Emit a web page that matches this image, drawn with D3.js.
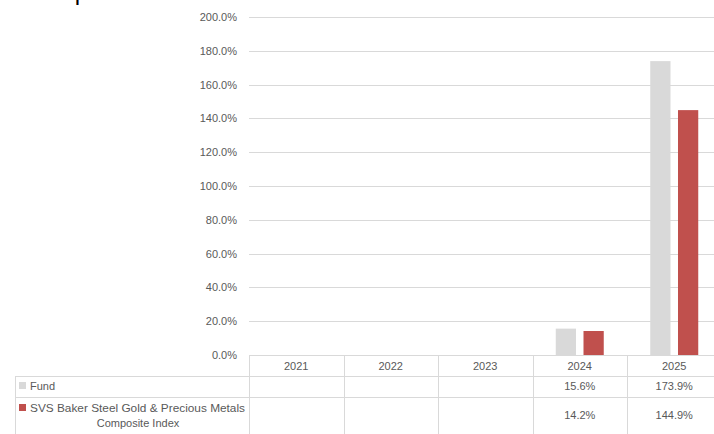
<!DOCTYPE html>
<html>

<head>
    <meta charset="utf-8">
    <script src="https://d3js.org/d3.v7.min.js"></script>
    <style>
        body { margin: 0; background: #fff; }
        text { font-family: "Liberation Sans", Arial, sans-serif; fill: #595959; }
    </style>
</head>

<body>
    <div id="viz"></div>

    <script>

        // data
        var years = ["2021", "2022", "2023", "2024", "2025"]
        var seriesNames = ["Fund", "SVS Baker Steel Gold & Precious Metals Composite Index"]
        var fundValues = [null, null, null, 15.6, 173.9]
        var indexValues = [null, null, null, 14.2, 144.9]
        var yTicks = [0, 20, 40, 60, 80, 100, 120, 140, 160, 180, 200]
        var colors = ["#d9d9d9", "#c0504d"]

        var W = 714, H = 434
        var plotLeft = 249, colWidth = 94.5
        var yBottom = 355, yTop = 17
        var rowLines = [355, 376, 397, 440]
        var labelLeft = 15

        var svg = d3.select("#viz")
            .append("svg")
            .attr("width", W)
            .attr("height", H)

        // title cut off by the top edge, only a descender shows
        svg.append("text")
            .attr("x", -20)
            .attr("y", 0)
            .style("font-size", "24px")
            .style("fill", "#000")
            .text("Discrete performance")

        var x = d3.scaleBand()
            .domain(years)
            .range([plotLeft, plotLeft + colWidth * years.length])

        var x1 = d3.scaleBand()
            .domain([0, 1])
            .range([0, 48])
            .paddingInner(0.27)

        var y = d3.scaleLinear()
            .domain([0, 200])
            .range([yBottom, yTop])

        // gridlines
        svg.append("g")
            .selectAll("line")
            .data(yTicks.slice(1))
            .enter()
            .append("line")
            .attr("x1", plotLeft)
            .attr("x2", W)
            .attr("y1", function (d) { return Math.round(y(d)) + 0.5 })
            .attr("y2", function (d) { return Math.round(y(d)) + 0.5 })
            .attr("stroke", "#d9d9d9")
            .attr("stroke-width", 1)

        // y tick labels
        svg.append("g")
            .selectAll("text")
            .data(yTicks)
            .enter()
            .append("text")
            .attr("x", 237)
            .attr("y", function (d) { return y(d) + 4 })
            .attr("text-anchor", "end")
            .style("font-size", "11px")
            .text(function (d) { return d.toFixed(1) + "%" })

        // bars
        var series = [fundValues, indexValues]
        series.forEach(function (vals, si) {
            svg.append("g")
                .selectAll("rect")
                .data(years.map(function (yr, i) { return { year: yr, value: vals[i] } })
                    .filter(function (d) { return d.value != null }))
                .enter()
                .append("rect")
                .attr("x", function (d) { return x(d.year) + x.bandwidth() / 2 - 24 + x1(si) })
                .attr("y", function (d) { return y(d.value) })
                .attr("width", x1.bandwidth())
                .attr("height", function (d) { return yBottom - y(d.value) })
                .attr("fill", colors[si])
        })

        // data table lines
        var table = svg.append("g")
        var tableRight = plotLeft + colWidth * years.length
        table.append("line")
            .attr("x1", plotLeft).attr("x2", tableRight)
            .attr("y1", rowLines[0] + 0.5).attr("y2", rowLines[0] + 0.5)
            .attr("stroke", "#d9d9d9")
        ;[rowLines[1], rowLines[2]].forEach(function (ry) {
            table.append("line")
                .attr("x1", labelLeft).attr("x2", tableRight)
                .attr("y1", ry + 0.5).attr("y2", ry + 0.5)
                .attr("stroke", "#d9d9d9")
        })
        table.append("line")
            .attr("x1", labelLeft + 0.5).attr("x2", labelLeft + 0.5)
            .attr("y1", rowLines[1]).attr("y2", H)
            .attr("stroke", "#d9d9d9")
        years.concat(["end"]).forEach(function (yr, i) {
            var cx = Math.round(plotLeft + colWidth * i) + 0.5
            table.append("line")
                .attr("x1", cx).attr("x2", cx)
                .attr("y1", rowLines[0]).attr("y2", H)
                .attr("stroke", "#d9d9d9")
        })

        // year labels
        table.selectAll(".yr")
            .data(years)
            .enter()
            .append("text")
            .attr("class", "yr")
            .attr("x", function (d) { return x(d) + x.bandwidth() / 2 })
            .attr("y", 370)
            .attr("text-anchor", "middle")
            .style("font-size", "11px")
            .text(function (d) { return d })

        // value cells
        var rowY = [390, 419]
        series.forEach(function (vals, si) {
            table.selectAll(".v" + si)
                .data(years.map(function (yr, i) { return { year: yr, value: vals[i] } })
                    .filter(function (d) { return d.value != null }))
                .enter()
                .append("text")
                .attr("x", function (d) { return x(d.year) + x.bandwidth() / 2 })
                .attr("y", rowY[si])
                .attr("text-anchor", "middle")
                .style("font-size", "11px")
                .text(function (d) { return d.value.toFixed(1) + "%" })
        })

        // legend keys in the table
        table.append("rect")
            .attr("x", 19).attr("y", 382).attr("width", 7).attr("height", 7)
            .attr("fill", colors[0])
        table.append("text")
            .attr("x", 30).attr("y", 390)
            .style("font-size", "11px")
            .text(seriesNames[0])

        table.append("rect")
            .attr("x", 19).attr("y", 404).attr("width", 7).attr("height", 7)
            .attr("fill", colors[1])
        var words = seriesNames[1].split(" ")
        table.append("text")
            .attr("x", 30).attr("y", 412)
            .style("font-size", "11px")
            .attr("textLength", 215)
            .attr("lengthAdjust", "spacingAndGlyphs")
            .text(words.slice(0, 7).join(" "))
        table.append("text")
            .attr("x", 138).attr("y", 427)
            .attr("text-anchor", "middle")
            .style("font-size", "11px")
            .text(words.slice(7).join(" "))

    </script>
</body>

</html>
